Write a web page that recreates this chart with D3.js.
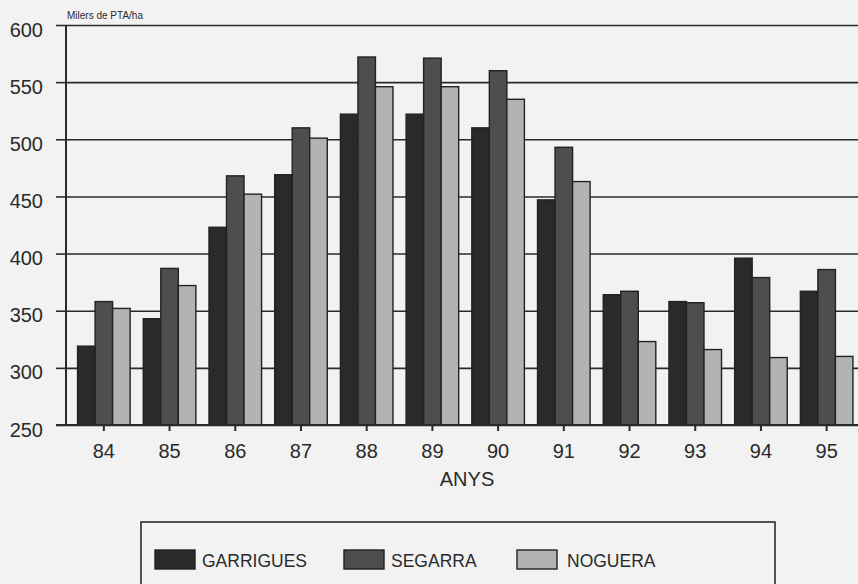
<!DOCTYPE html>
<html lang="ca">
<head>
    <meta charset="UTF-8">
    <title>Milers de PTA/ha</title>
    <style>
        body {
            margin: 0;
            background: #f2f2f2;
        }

        svg text {
            font-family: "Liberation Sans", Arial, sans-serif;
            fill: #2a2a2a;
        }

        .domain {
            display: none;
        }
    </style>
</head>
<body>
    <div class="chart"></div>

    <script src="https://d3js.org/d3.v7.min.js"></script>
    <script>
        // Data
        const years = ["84", "85", "86", "87", "88", "89", "90", "91", "92", "93", "94", "95"];
        const series = ["GARRIGUES", "SEGARRA", "NOGUERA"];
        const garrigues = [319, 343, 423, 469, 522, 522, 510, 447, 364, 358, 396, 367];
        const segarra = [358, 387, 468, 510, 572, 571, 560, 493, 367, 357, 379, 386];
        const noguera = [352, 372, 452, 501, 546, 546, 535, 463, 323, 316, 309, 310];
        const yTicks = [250, 300, 350, 400, 450, 500, 550, 600];
        const colors = ["#2a2a2a", "#4e4e4e", "#b3b3b3"];

        const values = [garrigues, segarra, noguera];

        const width = 858;
        const height = 584;
        const ink = "#2a2a2a";

        const svg = d3.select(".chart").append("svg")
            .attr("width", width)
            .attr("height", height);

        // Scales
        const x = d3.scaleBand().domain(years).range([71, 859.5]).paddingInner(0.2).paddingOuter(0.1);
        const xSub = d3.scaleBand().domain(series).range([0, x.bandwidth()]);
        const y = d3.scaleLinear().domain([250, 600]).range([425, 25]);

        const axisX = 66;

        // Gridlines (under bars)
        svg.append("g")
            .attr("transform", `translate(${axisX},0)`)
            .call(d3.axisRight(y).tickValues(yTicks).tickSize(width - axisX).tickFormat(""))
            .call(g => g.selectAll(".tick line").attr("stroke", ink).attr("stroke-width", 1.6));

        // Bars
        const groups = svg.append("g").selectAll("g")
            .data(years)
            .join("g")
            .attr("transform", d => `translate(${x(d)},0)`);

        groups.selectAll("rect")
            .data((d, i) => series.map((s, j) => ({ key: s, value: values[j][i], color: colors[j] })))
            .join("rect")
            .attr("x", d => xSub(d.key))
            .attr("y", d => y(d.value))
            .attr("width", xSub.bandwidth())
            .attr("height", d => y(250) - y(d.value))
            .attr("fill", d => d.color)
            .attr("stroke", "#222")
            .attr("stroke-width", 1.4);

        // Y axis
        svg.append("g")
            .attr("transform", `translate(${axisX},0)`)
            .call(d3.axisLeft(y).tickValues(yTicks).tickSize(10).tickPadding(13))
            .call(g => g.selectAll(".tick line").attr("stroke", ink).attr("stroke-width", 1.6))
            .call(g => g.selectAll(".tick text").attr("font-size", 20).attr("dy", "0.55em").attr("fill", ink));

        svg.append("line")
            .attr("x1", axisX).attr("x2", axisX)
            .attr("y1", y(600)).attr("y2", y(250))
            .attr("stroke", ink).attr("stroke-width", 2);

        // X axis
        svg.append("g")
            .attr("transform", `translate(0,${y(250)})`)
            .call(d3.axisBottom(x).tickSize(6).tickPadding(13))
            .call(g => g.selectAll(".tick line").attr("stroke", ink).attr("stroke-width", 2))
            .call(g => g.selectAll(".tick text").attr("font-size", 20).attr("fill", ink));

        svg.append("line")
            .attr("x1", 56).attr("x2", width)
            .attr("y1", y(250)).attr("y2", y(250))
            .attr("stroke", ink).attr("stroke-width", 2);

        // Labels
        svg.append("text")
            .attr("x", 67).attr("y", 19)
            .attr("font-size", 10)
            .text("Milers de PTA/ha");

        svg.append("text")
            .attr("x", 467).attr("y", 486)
            .attr("text-anchor", "middle")
            .attr("font-size", 20)
            .text("ANYS");

        // Legend
        const legend = svg.append("g");
        legend.append("rect")
            .attr("x", 141).attr("y", 522)
            .attr("width", 634).attr("height", 80)
            .attr("fill", "none")
            .attr("stroke", ink)
            .attr("stroke-width", 1.6);

        const legendX = [155, 344, 517];
        const items = legend.selectAll("g.item")
            .data(series)
            .join("g")
            .attr("class", "item")
            .attr("transform", (d, i) => `translate(${legendX[i]},550)`);

        items.append("rect")
            .attr("width", 40).attr("height", 19)
            .attr("fill", (d, i) => colors[i])
            .attr("stroke", "#222")
            .attr("stroke-width", 1.4);

        items.append("text")
            .attr("x", (d, i) => i === 2 ? 50 : 47)
            .attr("y", 17)
            .attr("font-size", 17.5)
            .text(d => d);
    </script>
</body>
</html>
